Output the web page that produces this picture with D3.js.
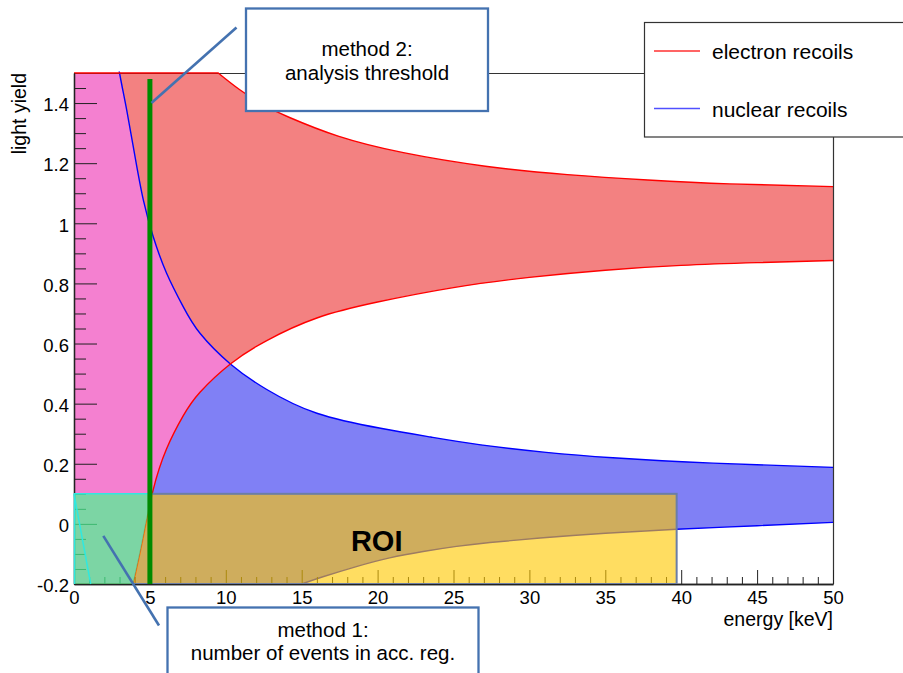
<!DOCTYPE html>
<html>
<head>
<meta charset="utf-8">
<script src="https://cdn.jsdelivr.net/npm/d3@7"></script>
<style>
    body { margin: 0; background: #fff; }
    text { font-family: "Liberation Sans", Arial, Helvetica, sans-serif; fill: #000; }
</style>
</head>
<body>
<svg id="chart" width="903" height="673"></svg>
<script>
// electron recoil band, energy [keV] vs light yield
var erUpperE  = [0, 9.5, 10.9, 12.5, 14.2, 17.4, 21.7, 27.1, 32.5, 37.8, 43.2, 50];
var erUpperLY = [1.5, 1.5, 1.445, 1.393, 1.352, 1.29, 1.235, 1.19, 1.162, 1.144, 1.131, 1.122];
var erLowerE  = [0, 3.9, 4.5, 5.2, 6.1, 7.2, 8.3, 10.3, 12.7, 16, 20, 25, 30, 35, 40, 45, 50];
var erLowerLY = [-0.2, -0.2, -0.06, 0.11, 0.25, 0.36, 0.438, 0.532, 0.61, 0.685, 0.738, 0.786, 0.82, 0.844, 0.86, 0.869, 0.876];
// nuclear recoil band (upper edge leaves the frame at the top left)
var nrUpperE  = [0, 2.5, 3.0, 3.47, 4.02, 4.57, 5.22, 6.1, 7.2, 8.3, 10.3, 12.7, 16, 20.2, 23.5, 26.8, 31.1, 35.5, 42.1, 50];
var nrUpperLY = [1.65, 1.65, 1.5, 1.377, 1.222, 1.077, 0.955, 0.834, 0.722, 0.634, 0.532, 0.447, 0.368, 0.318, 0.289, 0.263, 0.238, 0.22, 0.202, 0.188];
var nrLowerE  = [0, 15, 16.4, 18.6, 20.8, 23, 25.2, 27.4, 30.7, 35, 39.7, 45, 50];
var nrLowerLY = [-0.2, -0.2, -0.176, -0.142, -0.113, -0.092, -0.075, -0.062, -0.047, -0.031, -0.018, -0.006, 0.005];
// regions
var roiE = [0, 39.7], roiLY = [-0.2, 0.1];
var accE = [0, 5];
var accEdgeE = [0, 1.1], accEdgeLY = [0.1, -0.2];
var thresholdE = 5, thresholdTop = 1.48;
// axes
var xTicks = [0, 5, 10, 15, 20, 25, 30, 35, 40, 45, 50];
var yTicks = [-0.2, 0, 0.2, 0.4, 0.6, 0.8, 1, 1.2, 1.4];
var legendLabels = ["electron recoils", "nuclear recoils"];

var margin = {top: 73, right: 70, bottom: 89, left: 74};
var width = 903 - margin.left - margin.right,
    height = 673 - margin.top - margin.bottom;
var font = "'Liberation Sans', Arial, Helvetica, sans-serif";

var x = d3.scaleLinear().domain([0, 50]).range([0, width]);
var y = d3.scaleLinear().domain([-0.2, 1.5]).range([height, 0]);

function zip(a, b) { return a.map(function (v, i) { return [v, b[i]]; }); }
var erUpper = zip(erUpperE, erUpperLY), erLower = zip(erLowerE, erLowerLY),
    nrUpper = zip(nrUpperE, nrUpperLY), nrLower = zip(nrLowerE, nrLowerLY);

var spline = d3.line().x(function (d) { return x(d[0]); })
    .y(function (d) { return y(d[1]); }).curve(d3.curveNatural);

//leading flat run is drawn straight, the rest as a smooth spline
function edgePath(pts) {
    var k = 0;
    while (k + 1 < pts.length && pts[k + 1][1] === pts[0][1]) k++;
    var head = pts.slice(0, k + 1).map(function (p) { return x(p[0]) + "," + y(p[1]); }).join("L");
    return "M" + head + spline(pts.slice(k)).replace(/^M[^A-Za-z]*/, "");
}
function below(pts) {
    return edgePath(pts) + "L" + x(pts[pts.length - 1][0]) + "," + height + "L" + x(pts[0][0]) + "," + height + "Z";
}

var svg = d3.select("#chart");
var defs = svg.append("defs");
var g = svg.append("g").attr("transform", "translate(" + margin.left + "," + margin.top + ")");

//clip paths
defs.append("clipPath").attr("id", "plotClip").append("rect")
    .attr("width", width).attr("height", height);
defs.append("clipPath").attr("id", "lineClip").append("rect")
    .attr("x", -1).attr("y", -1.5).attr("width", width + 1).attr("height", height + 4);
var erBand = below(erUpper) + below(erLower),
    nrBand = below(nrUpper) + below(nrLower);
defs.append("clipPath").attr("id", "erClip").append("path")
    .attr("d", erBand).attr("clip-rule", "evenodd");
defs.append("clipPath").attr("id", "belowEr").append("path").attr("d", below(erLower));
defs.append("clipPath").attr("id", "aboveEr").append("path")
    .attr("d", "M-4,-4H" + (width + 4) + "V" + (height + 4) + "H-4Z" + below(erLower))
    .attr("clip-rule", "evenodd");

//bands
var bands = g.append("g").attr("clip-path", "url(#plotClip)");
bands.append("path").attr("d", nrBand).attr("fill-rule", "evenodd").attr("fill", "#8080f5");
bands.append("path").attr("d", erBand).attr("fill-rule", "evenodd").attr("fill", "#f38181");
bands.append("g").attr("clip-path", "url(#erClip)")
    .append("path").attr("d", nrBand).attr("fill-rule", "evenodd").attr("fill", "#f480d0");

//frame top and right
g.append("path").attr("d", "M0,0.5H" + (width + 0.5) + "V" + height)
    .attr("fill", "none").attr("stroke", "#333").attr("stroke-width", 1.2);

//band edges
var edges = g.append("g").attr("clip-path", "url(#lineClip)").attr("fill", "none").attr("stroke-width", 1.4);
edges.append("path").attr("d", edgePath(nrUpper)).attr("stroke", "#0000ff");
edges.append("path").attr("d", edgePath(nrLower)).attr("stroke", "#0000ff");
edges.append("path").attr("d", edgePath(erUpper)).attr("stroke", "#ff0000");
edges.append("path").attr("d", edgePath(erLower)).attr("stroke", "#ff0000");

//axes
function fmt(d) { return String(+d.toFixed(1)); }
g.append("g").attr("transform", "translate(0," + height + ")")
    .call(d3.axisBottom(x).tickValues(xTicks).tickSize(-14).tickSizeOuter(0).tickPadding(7).tickFormat(fmt));
g.append("g").attr("transform", "translate(0," + height + ")")
    .call(d3.axisBottom(x).tickValues(d3.range(0, 51, 1).filter(function (v) { return v % 5; }))
        .tickSize(-7).tickSizeOuter(0).tickFormat(""));
var yAxis = g.append("g")
    .call(d3.axisLeft(y).tickValues(yTicks).tickSize(-23).tickSizeOuter(0).tickPadding(5).tickFormat(fmt));
g.append("g")
    .call(d3.axisLeft(y).tickValues(d3.range(-0.15, 1.5, 0.05).filter(function (v) {
        return Math.abs(Math.round(v * 5) - v * 5) > 0.01; })).tickSize(-12).tickSizeOuter(0).tickFormat(""));
g.selectAll(".domain").attr("stroke", "#222").attr("stroke-width", 1.3);
g.selectAll(".tick line").attr("stroke", "#222");
g.selectAll(".tick text").attr("font-family", font).attr("font-size", 18.5).attr("fill", "#000");
yAxis.selectAll(".tick text").attr("dy", "0.42em");

//axis titles
g.append("text").attr("transform", "translate(-48,0) rotate(-90)")
    .attr("text-anchor", "end").attr("font-size", 19.5).text("light yield");
g.append("text").attr("x", width).attr("y", height + 42)
    .attr("text-anchor", "end").attr("font-size", 19.5).text("energy [keV]");

//region of interest and acceptance region
var roiG = g.append("g").attr("clip-path", "url(#belowEr)");
roiG.append("rect")
    .attr("x", x(roiE[0])).attr("y", y(roiLY[1]))
    .attr("width", x(roiE[1]) - x(roiE[0])).attr("height", y(roiLY[0]) - y(roiLY[1]))
    .attr("fill", "rgba(255,200,0,0.62)").attr("stroke", "#6b7ea6").attr("stroke-width", 2);
var accG = g.append("g").attr("clip-path", "url(#aboveEr)");
accG.append("rect")
    .attr("x", x(accE[0])).attr("y", y(roiLY[1]))
    .attr("width", x(accE[1]) - x(accE[0])).attr("height", y(roiLY[0]) - y(roiLY[1]))
    .attr("fill", "rgba(73,249,146,0.7)");
accG.append("path")
    .attr("d", d3.line()([[x(accE[0]) + 0.5, y(roiLY[0])], [x(accE[0]) + 0.5, y(roiLY[1])], [x(accE[1]), y(roiLY[1])]]))
    .attr("fill", "none").attr("stroke", "#30e8e0").attr("stroke-width", 1.5);
accG.append("path")
    .attr("d", d3.line()(zip(accEdgeE, accEdgeLY).map(function (d) { return [x(d[0]), y(d[1])]; })))
    .attr("fill", "none").attr("stroke", "#30e8e0").attr("stroke-width", 1.5);

g.append("text").attr("x", x(19.94)).attr("y", y(-0.09))
    .attr("text-anchor", "middle").attr("font-size", 29).attr("font-weight", "bold").text("ROI");

//analysis threshold
g.append("line").attr("x1", x(thresholdE)).attr("x2", x(thresholdE))
    .attr("y1", y(roiLY[0])).attr("y2", y(thresholdTop))
    .attr("stroke", "#008a00").attr("stroke-width", 5);

//callouts
var calloutColor = "#4472b0";
function callout(box, lines, from, target) {
    svg.append("line").attr("x1", from[0]).attr("y1", from[1])
        .attr("x2", margin.left + x(target[0])).attr("y2", margin.top + y(target[1]))
        .attr("stroke", calloutColor).attr("stroke-width", 2.6);
    svg.append("rect").attr("x", box.x).attr("y", box.y).attr("width", box.w).attr("height", box.h)
        .attr("fill", "#fff").attr("stroke", calloutColor).attr("stroke-width", 2.3);
    lines.forEach(function (t, i) {
        svg.append("text").attr("x", box.x + box.w / 2).attr("y", box.base + i * 23.5)
            .attr("text-anchor", "middle").attr("font-size", 20.5).text(t);
    });
}
callout({x: 246, y: 8.5, w: 242, h: 102.5, base: 56}, ["method 2:", "analysis threshold"], [236.5, 27.5], [5.1, 1.4]);
callout({x: 167.5, y: 607.5, w: 311, h: 90, base: 636.5}, ["method 1:", "number of events in acc. reg."], [159, 625.5], [1.93, -0.04]);

//legend
var legend = svg.append("g");
legend.append("rect").attr("x", 644.5).attr("y", 22.5).attr("width", 280).attr("height", 114.5)
    .attr("fill", "#fff").attr("stroke", "#333").attr("stroke-width", 1.2);
var legendColors = ["#ff3030", "#5050ff"];
legendLabels.forEach(function (t, i) {
    var ly = 51 + i * 57.5;
    legend.append("line").attr("x1", 654).attr("x2", 700).attr("y1", ly).attr("y2", ly)
        .attr("stroke", legendColors[i]).attr("stroke-width", 1.6);
    legend.append("text").attr("x", 712).attr("y", ly + 8).attr("font-size", 21).text(t);
});
</script>
</body>
</html>
